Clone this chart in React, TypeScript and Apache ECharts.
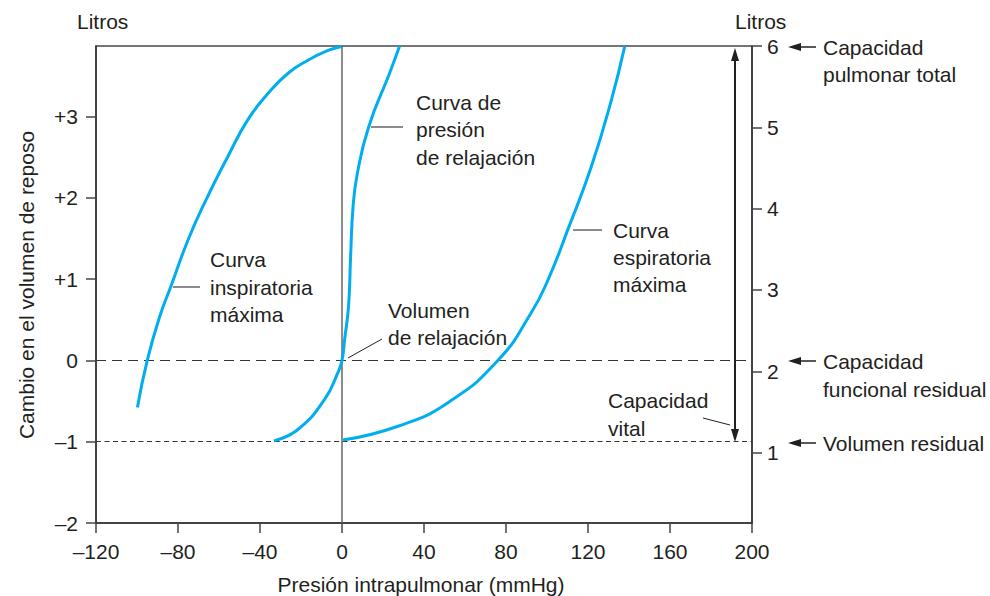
import React, { useEffect, useRef } from "react";
import * as echarts from "echarts";

// Presión intrapulmonar (mmHg) vs cambio en el volumen de reposo (L)
const inspPressure = [-99.8, -95, -88.9, -83.3, -75.1, -66.2, -55.6, -45.9, -36.1, -26.3, -16.6, -6.8, -0.3];
const inspVolume = [-0.58, 0, 0.54, 0.92, 1.48, 1.98, 2.51, 2.96, 3.28, 3.53, 3.69, 3.81, 3.86];

const relaxPressure = [-33.2, -21.5, -8.5, -2, 0, 1.3, 3.2, 4.2, 5.4, 7.5, 13, 23.2, 28.1];
const relaxVolume = [-0.99, -0.85, -0.48, -0.15, 0, 0.26, 0.67, 1.28, 1.89, 2.3, 2.87, 3.53, 3.865];

const expPressure = [0.5, 27.3, 51.7, 76.1, 92.3, 100.5, 110.2, 121.6, 131.4, 137.9];
const expVolume = [-0.98, -0.81, -0.52, 0, 0.585, 0.99, 1.61, 2.38, 3.2, 3.86];

const leftTicks = [-2, -1, 0, 1, 2, 3];
const rightTicks = [1, 2, 3, 4, 5, 6];
const yMin = -2;
const yMax = 3.865;
const litrosOffset = 2.135; // litros = cambio + offset

const FONT = '"Liberation Sans", Arial, Helvetica, sans-serif';
const FS = 21;
const TXT = "#231f20";
const BLUE = "#00aeef";

const zip = (a: number[], b: number[]) => a.map((v, i) => [v, b[i]]);
const dash = (v: number) => (v < 0 ? "\u2013" + Math.abs(v) : String(v));

function txt(x: number, y: number, s: string, extra: any = {}, more: any = {}) {
  return {
    type: "text",
    x,
    y,
    ...more,
    style: {
      text: s,
      fill: TXT,
      font: `${FS}px ${FONT}`,
      align: "left",
      verticalAlign: "middle",
      ...extra,
    },
    silent: true,
  };
}
function seg(x1: number, y1: number, x2: number, y2: number, color = "#666", w = 1.5) {
  return {
    type: "line",
    shape: { x1, y1, x2, y2 },
    style: { stroke: color, lineWidth: w },
    silent: true,
  };
}
function leftArrow(y: number) {
  return [
    seg(816, y, 796, y, "#231f20", 1.5),
    {
      type: "polygon",
      shape: { points: [[788, y], [801, y - 4], [801, y + 4]] },
      style: { fill: "#231f20" },
      silent: true,
    },
  ];
}

export default function App() {
  const ref = useRef<HTMLDivElement>(null);
  useEffect(() => {
    if (!ref.current) return;
    const chart = echarts.init(ref.current, null, { renderer: "svg" });
    const lineSeries = (name: string, data: number[][]) => ({
      name,
      type: "line",
      data,
      smooth: 0.5,
      showSymbol: false,
      lineStyle: { color: BLUE, width: 3 },
      itemStyle: { color: BLUE },
      z: 5,
    });
    const axisLabel = { color: TXT, fontSize: FS, fontFamily: FONT };
    const option: any = {
      animation: false,
      textStyle: { fontFamily: FONT },
      grid: {
        left: 96,
        right: 238,
        top: 46,
        bottom: 73,
        show: true,
        borderColor: "#4a4a4a",
        borderWidth: 1.5,
        backgroundColor: "transparent",
      },
      xAxis: {
        type: "value",
        min: -120,
        max: 200,
        interval: 40,
        axisLine: { show: true, onZero: false, lineStyle: { color: "#333", width: 1.5 } },
        axisTick: { show: true, length: 10, inside: false, lineStyle: { color: "#444", width: 1.5 } },
        axisLabel: { ...axisLabel, margin: 18, formatter: (v: number) => dash(v) },
        splitLine: { show: false },
      },
      yAxis: [
        {
          type: "value",
          min: yMin,
          max: yMax,
          position: "left",
          axisLine: { show: true, onZero: false, lineStyle: { color: "#333", width: 1.5 } },
          axisTick: { show: true, length: 10, customValues: leftTicks, lineStyle: { color: "#444", width: 1.5 } },
          axisLabel: {
            ...axisLabel,
            customValues: leftTicks,
            margin: 18,
            formatter: (v: number) => (v > 0 ? "+" + v : dash(v)),
          },
          splitLine: { show: false },
        },
        {
          type: "value",
          min: yMin + litrosOffset,
          max: yMax + litrosOffset,
          position: "right",
          axisLine: { show: true, onZero: false, lineStyle: { color: "#333", width: 1.5 } },
          axisTick: { show: true, length: 10, customValues: rightTicks, lineStyle: { color: "#444", width: 1.5 } },
          axisLabel: { ...axisLabel, customValues: rightTicks, margin: 15 },
          splitLine: { show: false },
        },
      ],
      series: [
        {
          type: "line",
          data: [],
          markLine: {
            silent: true,
            symbol: "none",
            label: { show: false },
            data: [
              { yAxis: 0, lineStyle: { color: "#333", width: 1.2, type: [10, 6] } },
              { yAxis: -1, lineStyle: { color: "#333", width: 1.2, type: [5, 3.5] } },
              { xAxis: 0, lineStyle: { color: "#666", width: 1.5, type: "solid" } },
            ],
          },
          z: 2,
        },
        lineSeries("Curva inspiratoria máxima", zip(inspPressure, inspVolume)),
        lineSeries("Curva de presión de relajación", zip(relaxPressure, relaxVolume)),
        lineSeries("Curva espiratoria máxima", zip(expPressure, expVolume)),
      ],
      graphic: [
        txt(77, 21, "Litros"),
        txt(735, 21, "Litros"),
        txt(26, 285, "Cambio en el volumen de reposo", { align: "center" }, { rotation: Math.PI / 2 }),
        txt(421, 584, "Presión intrapulmonar (mmHg)", { align: "center" }),
        txt(210, 259, "Curva"),
        txt(210, 287, "inspiratoria"),
        txt(210, 314, "máxima"),
        seg(173, 287, 200, 287),
        txt(416, 102, "Curva de"),
        txt(416, 129, "presión"),
        txt(416, 157, "de relajación"),
        seg(371, 127, 403, 127),
        txt(388, 310, "Volumen"),
        txt(388, 337, "de relajación"),
        seg(348, 358, 382, 339, "#231f20", 1),
        txt(613, 230, "Curva"),
        txt(613, 257, "espiratoria"),
        txt(613, 284, "máxima"),
        seg(573, 230, 602, 230),
        txt(608, 400, "Capacidad"),
        txt(608, 428, "vital"),
        seg(703, 418, 730, 425, "#231f20", 1),
        seg(735, 58, 735, 432, "#231f20", 2),
        {
          type: "polygon",
          shape: { points: [[735, 48], [731, 61], [739, 61]] },
          style: { fill: "#231f20" },
          silent: true,
        },
        {
          type: "polygon",
          shape: { points: [[735, 442], [731, 429], [739, 429]] },
          style: { fill: "#231f20" },
          silent: true,
        },
        ...leftArrow(47),
        ...leftArrow(361),
        ...leftArrow(443),
        txt(823, 47, "Capacidad"),
        txt(823, 74, "pulmonar total"),
        txt(823, 361, "Capacidad"),
        txt(823, 389, "funcional residual"),
        txt(823, 443, "Volumen residual"),
      ],
    };
    chart.setOption(option);
    return () => chart.dispose();
  }, []);
  return (
    <div
      ref={ref}
      style={{ position: "absolute", left: 0, top: 0, width: 990, height: 596, background: "#fff" }}
    />
  );
}
